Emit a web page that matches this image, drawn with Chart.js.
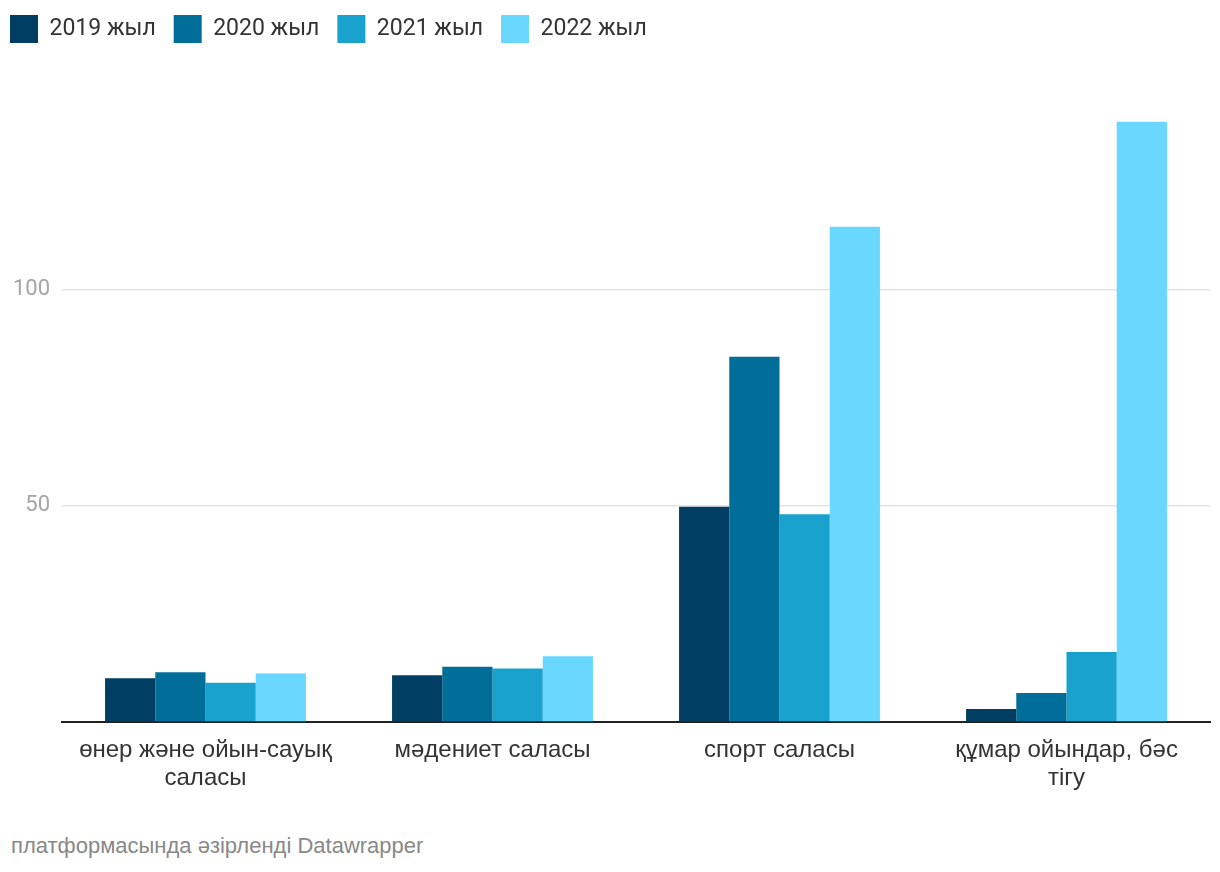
<!DOCTYPE html>
<html>
<head>
<meta charset="utf-8">
<script src="https://cdn.jsdelivr.net/npm/chart.js@4"></script>
<style>
  body { margin: 0; background: #fff; }
  #wrap { position: absolute; left: 0; top: 0; width: 1220px; height: 800px; }
  #footer { position: absolute; left: 11px; top: 834px; font-family: "Liberation Sans", Arial, sans-serif; font-size: 22px; line-height: 24px; color: #888; }
</style>
</head>
<body>
<div id="wrap"><canvas id="myChart"></canvas></div>
<div id="footer">платформасында әзірленді Datawrapper</div>
<script>
const categories = [["өнер және ойын-сауық", "саласы"], "мәдениет саласы", "спорт саласы", ["құмар ойындар, бәс", "тігу"]];
const years = ["2019 жыл", "2020 жыл", "2021 жыл", "2022 жыл"];
const values2019 = [10.1, 10.8, 49.8, 3.0];
const values2020 = [11.5, 12.8, 84.5, 6.7];
const values2021 = [9.1, 12.4, 48.1, 16.2];
const values2022 = [11.2, 15.2, 114.6, 138.9];
const yTicks = [50, 100];
const colors = ['#003f63', '#006e98', '#18a2cd', '#69d7fe'];

// push the plot down below the legend
const legendSpace = {
    id: 'legendSpace',
    beforeInit(chart) {
        const fit = chart.legend.fit;
        chart.legend.fit = function () {
            fit.call(this);
            this.height = 120;
        };
    }
};

const seriesValues = [values2019, values2020, values2021, values2022];
const ctx = document.getElementById('myChart').getContext('2d');
const myChart = new Chart(ctx, {
    type: 'bar',
    data: {
        labels: categories,
        datasets: years.map((y, i) => ({
            label: y,
            data: seriesValues[i],
            backgroundColor: colors[i],
            borderWidth: 0,
            categoryPercentage: 0.7,
            barPercentage: 1.0,
        }))
    },
    options: {
        responsive: true,
        maintainAspectRatio: false,
        animation: false,
        layout: {
            padding: { left: -8, right: 10, top: -3, bottom: 0 }
        },
        plugins: {
            legend: {
                align: 'start',
                labels: {
                    boxWidth: 28,
                    boxHeight: 28,
                    padding: 18,
                    color: '#333',
                    font: { family: 'Roboto', size: 23 },
                },
            },
            tooltip: { enabled: false },
        },
        scales: {
            x: {
                grid: { display: false },
                border: { display: true, color: '#222', width: 2 },
                ticks: {
                    color: '#333',
                    font: { family: 'Liberation Sans', size: 24, lineHeight: 1.15 },
                    padding: 7,
                    maxRotation: 0,
                    autoSkip: false,
                },
                afterFit(axis) { axis.height = 78; }
            },
            y: {
                min: 0,
                max: 140,
                border: { display: false },
                grid: {
                    color: c => (c.tick && yTicks.includes(c.tick.value)) ? '#e3e3e3' : 'rgba(0,0,0,0)',
                    lineWidth: 1.5,
                    drawTicks: false,
                },
                ticks: {
                    stepSize: 50,
                    padding: 12,
                    color: '#a5a5a5',
                    font: { family: 'Roboto', size: 22 },
                    callback: v => yTicks.includes(v) ? v : '',
                },
                afterFit(axis) { axis.width = 70; }
            }
        }
    },
    plugins: [legendSpace]
});
</script>
</body>
</html>
